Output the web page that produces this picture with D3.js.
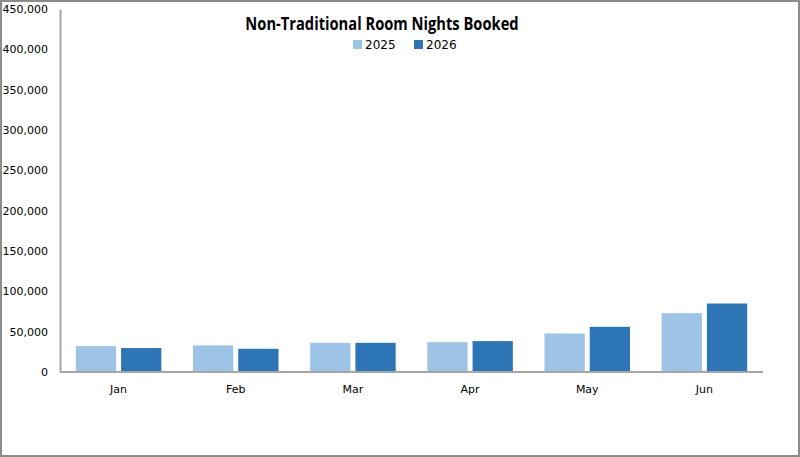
<!DOCTYPE html>
<html>
<head>
<meta charset="utf-8">
<script src="https://cdn.jsdelivr.net/npm/d3@7"></script>
<style>
  body { margin: 0; background: #fff; }
  svg { display: block; }
</style>
</head>
<body>
<div id="chart"></div>
<script>
var months = ["Jan", "Feb", "Mar", "Apr", "May", "Jun"];
var years = ["2025", "2026"];
var nights2025 = [32100, 33000, 36200, 37000, 47800, 72900];
var nights2026 = [29700, 28800, 36200, 38300, 56000, 84900];
var yTicks = [0, 50000, 100000, 150000, 200000, 250000, 300000, 350000, 400000, 450000];
var colors = ["#9dc3e6", "#2e75b6"];

var width = 800, height = 457;
var margin = { top: 9, right: 37, bottom: 85, left: 60 };

var svg = d3.select("#chart").append("svg")
    .attr("width", width)
    .attr("height", height);

// outer frame
svg.append("rect")
    .attr("x", 1).attr("y", 1)
    .attr("width", width - 2).attr("height", height - 2)
    .attr("fill", "#fff")
    .attr("stroke", "#8c8c8c")
    .attr("stroke-width", 2);

var x = d3.scaleBand()
    .domain(months)
    .range([margin.left, width - margin.right])
    .paddingInner(0.27)
    .paddingOuter(0.135);

var xSub = d3.scaleBand()
    .domain(years)
    .range([0, x.bandwidth()])
    .paddingInner(0.11);

var y = d3.scaleLinear()
    .domain([0, 450000])
    .range([height - margin.bottom, margin.top]);

var rows = months.map(function (m, i) {
    return { month: m, values: [nights2025[i], nights2026[i]] };
});

var groups = svg.selectAll(".month")
    .data(rows)
    .enter().append("g")
    .attr("transform", function (d) { return "translate(" + x(d.month) + ",0)"; });

groups.selectAll("rect")
    .data(function (d) { return d.values.map(function (v, j) { return { year: years[j], value: v, j: j }; }); })
    .enter().append("rect")
    .attr("x", function (d) { return xSub(d.year); })
    .attr("y", function (d) { return y(d.value); })
    .attr("width", xSub.bandwidth())
    .attr("height", function (d) { return y(0) - y(d.value); })
    .attr("fill", function (d) { return colors[d.j]; });

// y axis
var yAxis = svg.append("g")
    .attr("transform", "translate(" + margin.left + ",0)")
    .call(d3.axisLeft(y).tickValues(yTicks).tickSize(0).tickPadding(12)
        .tickFormat(d3.format(",")));
yAxis.select(".domain").attr("stroke", "#a6a6a6").attr("stroke-width", 2);
yAxis.selectAll("text")
    .attr("font-family", "DejaVu Sans, sans-serif")
    .attr("font-size", 11)
    .attr("fill", "#000");

// x axis
var xAxis = svg.append("g")
    .attr("transform", "translate(0," + y(0) + ")")
    .call(d3.axisBottom(x).tickSize(0).tickPadding(13));
xAxis.select(".domain")
    .attr("d", "M" + margin.left + ",0H" + (width - margin.right))
    .attr("stroke", "#a6a6a6").attr("stroke-width", 2);
xAxis.selectAll("text")
    .attr("font-family", "DejaVu Sans, sans-serif")
    .attr("font-size", 11)
    .attr("fill", "#000");

// title (narrowed to match a Calibri-like width)
svg.append("text")
    .attr("transform", "translate(382,30) scale(0.84,1)")
    .attr("text-anchor", "middle")
    .attr("font-family", "Open Sans, sans-serif")
    .attr("font-weight", "bold")
    .attr("font-size", 17.5)
    .text("Non-Traditional Room Nights Booked");

// legend
var legend = svg.selectAll(".legend")
    .data(years)
    .enter().append("g")
    .attr("transform", function (d, i) { return "translate(" + (353 + i * 61) + ",40)"; });
legend.append("rect")
    .attr("width", 9).attr("height", 9)
    .attr("fill", function (d, i) { return colors[i]; });
legend.append("text")
    .attr("x", 12).attr("y", 9)
    .attr("font-family", "DejaVu Sans, sans-serif")
    .attr("font-size", 12)
    .text(function (d) { return d; });
</script>
</body>
</html>
